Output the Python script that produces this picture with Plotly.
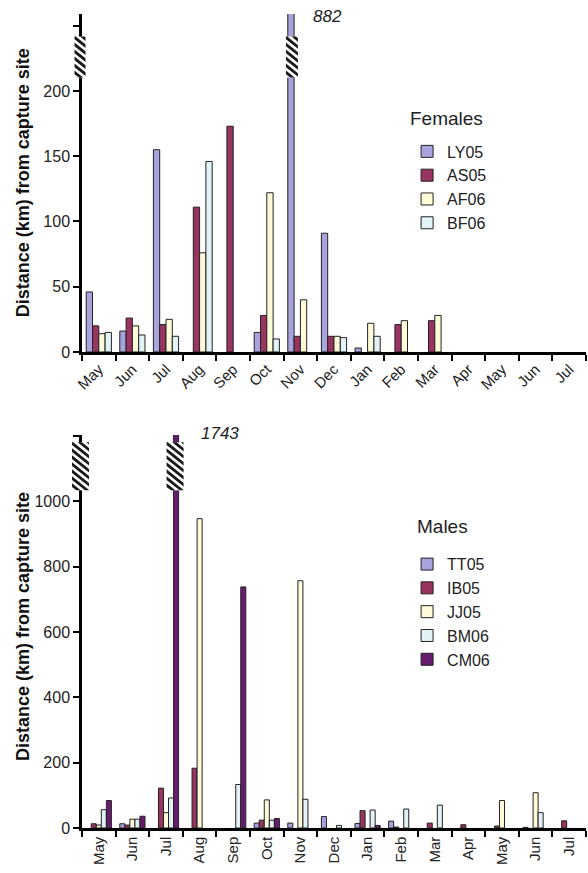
import plotly.graph_objects as go

# ---------------- data ----------------
periods = ["May 2005", "Jun 2005", "Jul 2005", "Aug 2005", "Sep 2005", "Oct 2005",
           "Nov 2005", "Dec 2005", "Jan 2006", "Feb 2006", "Mar 2006", "Apr 2006",
           "May 2006", "Jun 2006", "Jul 2006"]
month_labels = ["May", "Jun", "Jul", "Aug", "Sep", "Oct", "Nov", "Dec", "Jan", "Feb",
                "Mar", "Apr", "May", "Jun", "Jul"]

# Females: distance (km) from capture site
LY05 = [46, 16, 155, None, None, 15, 882, 91, 3, None, None, None, None, None, None]
AS05 = [20, 26, 21, 111, 173, 28, 12, 12, None, 21, 24, None, None, None, None]
AF06 = [14, 20, 25, 76, None, 122, 40, 12, 22, 24, 28, None, None, None, None]
BF06 = [15, 13, 12, 146, None, 10, None, 11, 12, None, None, None, None, None, None]

# Males: distance (km) from capture site
TT05 = [None, 13, None, None, None, 15, 15, 35, 14, 21, None, None, None, 2, None]
IB05 = [13, 9, 122, 183, None, 24, None, None, 53, 3, 15, 10, 6, None, 22]
JJ05 = [9, 27, 47, 947, None, 86, 757, None, None, None, None, None, 84, 108, None]
BM06 = [56, 27, 92, None, 133, 24, 88, 8, 55, 58, 70, None, None, 47, None]
CM06 = [84, 36, 1743, None, 738, 29, None, None, 8, None, None, None, None, None, None]

female_names = ["LY05", "AS05", "AF06", "BF06"]
female_series = [LY05, AS05, AF06, BF06]
male_names = ["TT05", "IB05", "JJ05", "BM06", "CM06"]
male_series = [TT05, IB05, JJ05, BM06, CM06]

female_colors = ["#a9a3dd", "#993360", "#fffad8", "#e2f3f8"]
male_colors = ["#a9a3dd", "#993360", "#fffad8", "#e2f3f8", "#671c70"]

female_ticks = [0, 50, 100, 150, 200, 250]
female_ticktext = ["0", "50", "100", "150", "200", ""]
male_ticks = [0, 200, 400, 600, 800, 1000, 1200]
male_ticktext = ["0", "200", "400", "600", "800", "1000", ""]

BARGAP = 0.25
FONT = "Liberation Sans"

fig = go.Figure()
for name, vals, col in zip(female_names, female_series, female_colors):
    fig.add_trace(go.Bar(x=periods, y=vals, name=name, marker_color=col,
                         marker_line=dict(color="#222222", width=1),
                         xaxis="x", yaxis="y", legend="legend"))
for name, vals, col in zip(male_names, male_series, male_colors):
    fig.add_trace(go.Bar(x=periods, y=vals, name=name, marker_color=col,
                         marker_line=dict(color="#222222", width=1),
                         xaxis="x2", yaxis="y2", legend="legend2"))


# ---------------- axis-break symbols ----------------
def clip_poly(pts, ymin, ymax):
    def clip(pts, keep, yc):
        out = []
        n = len(pts)
        for i in range(n):
            cur, prev = pts[i], pts[i - 1]
            cin, pin = keep(cur), keep(prev)
            if cin != pin:
                t = (yc - prev[1]) / (cur[1] - prev[1])
                out.append((prev[0] + t * (cur[0] - prev[0]), yc))
            if cin:
                out.append(cur)
        return out
    pts = clip(pts, lambda p: p[1] >= ymin, ymin)
    if pts:
        pts = clip(pts, lambda p: p[1] <= ymax, ymax)
    return pts


def break_symbol(xref, yref, xanchor, yanchor, w, h, dx=0.0, period=7.0, thick=3.6):
    drop = 0.8 * w
    hw, hh = w / 2.0, h / 2.0
    common = dict(xref=xref, yref=yref, xsizemode="pixel", ysizemode="pixel",
                  xanchor=xanchor, yanchor=yanchor, layer="above")
    out = [dict(type="rect", x0=dx - hw, x1=dx + hw, y0=-hh, y1=hh,
                fillcolor="white", line=dict(width=0), **common)]
    parts = []
    c = -hh - thick
    while c < hh + drop:
        poly = [(-hw, c), (hw, c - drop), (hw, c - drop + thick), (-hw, c + thick)]
        cp = clip_poly(poly, -hh, hh)
        if len(cp) >= 3:
            parts.append("M " + " L ".join(f"{x + dx:.2f},{y:.2f}" for x, y in cp) + " Z")
        c += period
    out.append(dict(type="path", path=" ".join(parts), fillcolor="#1a1a1a",
                    line=dict(width=0), **common))
    return out


def bar_center(cat_index, k, n):
    group = 1.0 - BARGAP
    return cat_index - group / 2 + (k + 0.5) * group / n


shapes = []
# female chart: break on y axis and on the LY05 November bar
nov = periods.index("Nov 2005")
shapes += break_symbol("paper", "y", 0, 226, 11, 41, dx=-2)
shapes += break_symbol("x", "y", bar_center(nov, 0, 4), 226, 12, 41, dx=1)
# male chart: break on y axis and on the CM06 July bar
jul = periods.index("Jul 2005")
shapes += break_symbol("paper", "y2", 0, 1107, 17, 48, dx=-1.5)
shapes += break_symbol("x2", "y2", bar_center(jul, 4, 5), 1107, 17, 48, dx=-1)

annotations = [
    dict(text="<i>882</i>", xref="x", yref="y domain", x=nov + 0.8, y=1.0,
         yanchor="middle", yshift=-2, showarrow=False,
         font=dict(family=FONT, size=17, color="#222")),
    dict(text="<i>1743</i>", xref="x2", yref="y2 domain", x=jul + 1.6, y=1.0,
         yanchor="middle", yshift=2, showarrow=False,
         font=dict(family=FONT, size=17, color="#222")),
    dict(text="<b>Distance (km) from capture site</b>", xref="paper", yref="paper",
         x=-0.117, y=0.792, textangle=-90, showarrow=False, xanchor="center", yanchor="middle",
         font=dict(family=FONT, size=18, color="#111")),
    dict(text="<b>Distance (km) from capture site</b>", xref="paper", yref="paper",
         x=-0.117, y=0.247, textangle=-90, showarrow=False, xanchor="center", yanchor="middle",
         font=dict(family=FONT, size=18, color="#111")),
    # legend headings
    dict(text="Females", xref="paper", yref="paper", x=0.647, y=0.872,
         xanchor="left", yanchor="middle", showarrow=False,
         font=dict(family=FONT, size=19, color="#222")),
    dict(text="Males", xref="paper", yref="paper", x=0.661, y=0.371,
         xanchor="left", yanchor="middle", showarrow=False,
         font=dict(family=FONT, size=19, color="#222")),
]

xaxis_common = dict(type="category", categoryorder="array", categoryarray=periods,
                    tickmode="array", tickvals=periods, ticktext=month_labels,
                    tickson="boundaries", ticks="outside", ticklen=6, tickwidth=2,
                    tickcolor="black", showline=True, linewidth=2.5, linecolor="black",
                    showgrid=False, zeroline=False, range=[-0.5, len(periods) - 0.5],
                    tickfont=dict(family=FONT, size=15, color="#222"))
yaxis_common = dict(tickmode="array", ticks="outside", ticklen=6, tickwidth=2,
                    tickcolor="black", showline=True, linewidth=2.5, linecolor="black",
                    showgrid=False, zeroline=False, ticklabelstandoff=0,
                    tickfont=dict(family=FONT, size=16, color="#222"))

fig.update_layout(
    width=588, height=873, autosize=False,
    margin=dict(l=82, r=2, t=14, b=45),
    paper_bgcolor="white", plot_bgcolor="white",
    font=dict(family=FONT, color="#222"),
    barmode="group", bargap=BARGAP, bargroupgap=0,
    xaxis=dict(anchor="y", domain=[0, 1], tickangle=-45, **xaxis_common),
    yaxis=dict(anchor="x", domain=[0.5848, 1.0], range=[0, 259],
               tickvals=female_ticks, ticktext=female_ticktext, **yaxis_common),
    xaxis2=dict(anchor="y2", domain=[0, 1], tickangle=-90, **xaxis_common),
    yaxis2=dict(anchor="x2", domain=[0, 0.4828], range=[0, 1203],
                tickvals=male_ticks, ticktext=male_ticktext, **yaxis_common),
    legend=dict(x=0.645, y=0.852, xanchor="left", yanchor="top",
                bgcolor="rgba(0,0,0,0)", traceorder="normal",
                font=dict(family=FONT, size=16, color="#222")),
    legend2=dict(x=0.645, y=0.345, xanchor="left", yanchor="top",
                 bgcolor="rgba(0,0,0,0)", traceorder="normal", tracegroupgap=0,
                 font=dict(family=FONT, size=16, color="#222")),
    shapes=shapes,
    annotations=annotations,
    showlegend=True,
)

fig.write_html("out.html", config={"displayModeBar": False},
               post_script="document.body.style.margin='0px';")
